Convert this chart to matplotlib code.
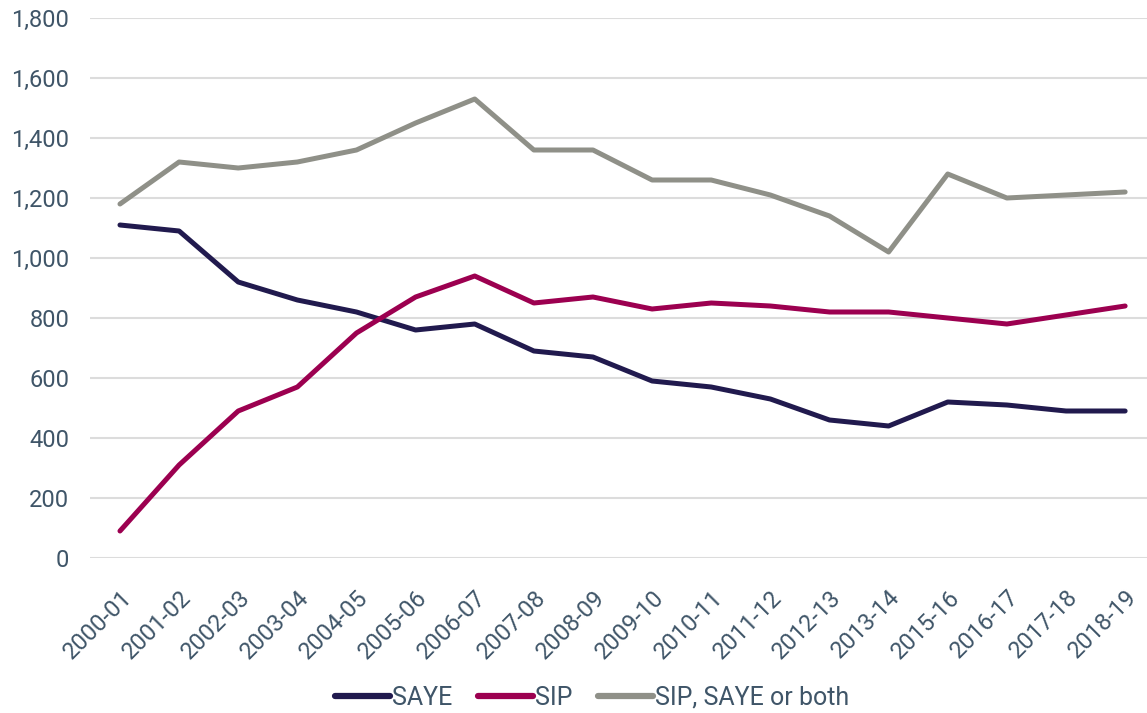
import matplotlib
matplotlib.use("Agg")
import matplotlib.pyplot as plt
from matplotlib.ticker import FuncFormatter

plt.rcParams['font.family'] = ['Roboto', 'DejaVu Sans']

years = ["2000-01", "2001-02", "2002-03", "2003-04", "2004-05", "2005-06", "2006-07",
         "2007-08", "2008-09", "2009-10", "2010-11", "2011-12", "2012-13", "2013-14",
         "2015-16", "2016-17", "2017-18", "2018-19"]
saye = [1110, 1090, 920, 860, 820, 760, 780, 690, 670, 590, 570, 530, 460, 440, 520, 510, 490, 490]
sip = [90, 310, 490, 570, 750, 870, 940, 850, 870, 830, 850, 840, 820, 820, 800, 780, 810, 840]
both = [1180, 1320, 1300, 1320, 1360, 1450, 1530, 1360, 1360, 1260, 1260, 1210, 1140, 1020, 1280, 1200, 1210, 1220]

text_color = "#3f5568"
fig = plt.figure(figsize=(11.47, 7.13), dpi=100)
ax = fig.add_axes([90/1147, 1 - 558/713, 1 - 90/1147, (558 - 18)/713])

x = list(range(len(years)))
ax.plot(x, saye, color="#211a4e", lw=3.6, solid_capstyle="round", label="SAYE", zorder=3)
ax.plot(x, sip, color="#9c0050", lw=3.6, solid_capstyle="round", label="SIP", zorder=3)
ax.plot(x, both, color="#8f9088", lw=3.6, solid_capstyle="round", label="SIP, SAYE or both", zorder=3)

ax.set_ylim(0, 1800)
ax.set_xlim(-0.507, 17.37)
ax.set_yticks(range(0, 1801, 200))
ax.yaxis.set_major_formatter(FuncFormatter(lambda v, p: f"{int(v):,}"))
ax.set_xticks(x)
ax.set_xticklabels(years, rotation=45, ha="right", rotation_mode="anchor")
ax.tick_params(axis="both", length=0, colors=text_color, labelsize=17)
ax.tick_params(axis="y", pad=15)
ax.tick_params(axis="x", pad=20)
ax.grid(axis="y", color="#dcdcdc", lw=1.5, zorder=0)
for s in ax.spines.values():
    s.set_visible(False)

leg = fig.legend(loc="center", bbox_to_anchor=(592/1147, 1 - 698/713), ncol=3, frameon=False,
                 fontsize=18, handlelength=2.2, handletextpad=0.1, columnspacing=1.0)
for line in leg.get_lines():
    line.set_linewidth(4.5)
    line.set_solid_capstyle("round")
for t in leg.get_texts():
    t.set_color(text_color)

fig.savefig("out.png", dpi=100)
